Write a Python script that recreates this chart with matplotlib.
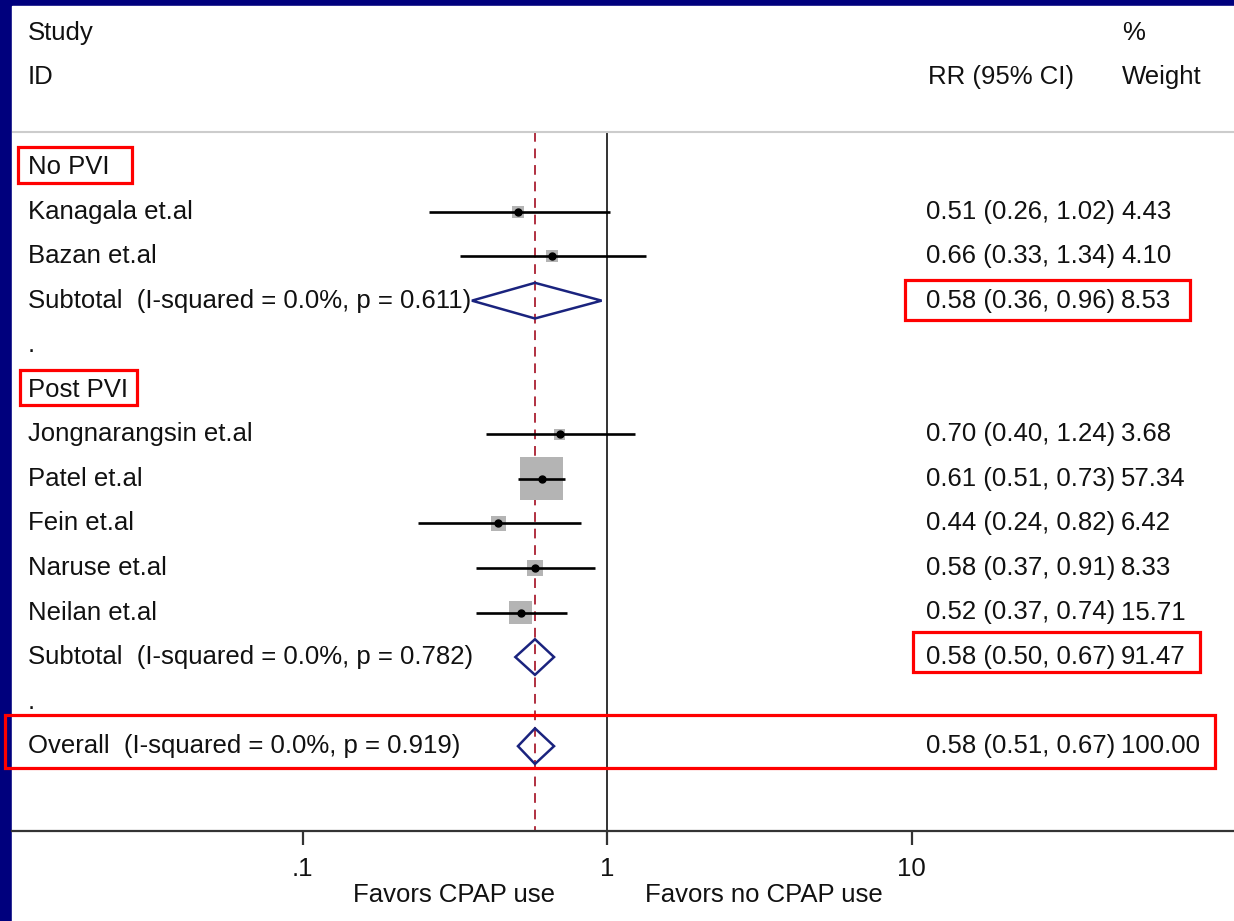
import matplotlib
matplotlib.use("Agg")
import matplotlib.pyplot as plt
from matplotlib.patches import Polygon, Rectangle
import numpy as np

plt.rcParams['font.family'] = ['Liberation Sans', 'DejaVu Sans']

# study-level data
studies = ['Kanagala et.al', 'Bazan et.al', 'Jongnarangsin et.al', 'Patel et.al',
           'Fein et.al', 'Naruse et.al', 'Neilan et.al']
study_rows = [1, 2, 6, 7, 8, 9, 10]
rr = [0.51, 0.66, 0.70, 0.61, 0.44, 0.58, 0.52]
lo = [0.26, 0.33, 0.40, 0.51, 0.24, 0.37, 0.37]
hi = [1.02, 1.34, 1.24, 0.73, 0.82, 0.91, 0.74]
weight = [4.43, 4.10, 3.68, 57.34, 6.42, 8.33, 15.71]

# pooled estimates
pooled_labels = ['Subtotal  (I-squared = 0.0%, p = 0.611)',
                 'Subtotal  (I-squared = 0.0%, p = 0.782)',
                 'Overall  (I-squared = 0.0%, p = 0.919)']
pooled_rows = [3, 11, 13]
pooled_rr = [0.58, 0.58, 0.58]
pooled_lo = [0.36, 0.50, 0.51]
pooled_hi = [0.96, 0.67, 0.67]
pooled_w = [8.53, 91.47, 100.00]

groups = ['No PVI', 'Post PVI']
group_rows = [0, 5]
dot_rows = [4, 12]

overall_rr = 0.58
tick_vals = [0.1, 1, 10]
tick_labels = ['.1', '1', '10']

W, H = 1234, 921
fig = plt.figure(figsize=(W / 100, H / 100), dpi=100, facecolor='#00007d')

# white panel
px0, py_top, py_axis = 12, 6, 831
ax = fig.add_axes([px0 / W, (H - py_axis) / H, (W - px0) / W, (py_axis - py_top) / H])
ax.set_facecolor('white')
bg = Rectangle((px0 / W, 0), 1, (H - py_top) / H, transform=fig.transFigure,
               color='white', zorder=-10)
fig.patches.append(bg)

# pixel mapping: x=1 at 607px, one decade = 304.5px; row 0 at 167px, 44.55px per row
dec, x1px = 304.5, 607
row0, rowh = 167, 44.55
ax.set_xscale('log')
ax.set_xlim(10 ** ((px0 - x1px) / dec), 10 ** ((W - x1px) / dec))
ax.set_ylim((py_axis - row0) / rowh, (py_top - row0) / rowh)


def fx(px):
    return (px - px0) / (W - px0)


def prow(py):
    return (py - row0) / rowh


for s in ['top', 'left', 'right']:
    ax.spines[s].set_visible(False)
ax.spines['bottom'].set_color('#333333')
ax.spines['bottom'].set_linewidth(1.6)
ax.set_yticks([])
ax.set_xticks(tick_vals)
ax.set_xticklabels(tick_labels)
ax.xaxis.set_minor_locator(matplotlib.ticker.NullLocator())
ax.tick_params(axis='x', direction='out', length=10, width=1.6, color='#333333',
               labelsize=18.5, pad=9, labelcolor='#111111')

ty = ax.get_yaxis_transform()
tc = '#111111'
fs = 18.5

# header
ax.text(fx(28), prow(33), 'Study', transform=ty, fontsize=fs, va='center', color=tc)
ax.text(fx(28), prow(77), 'ID', transform=ty, fontsize=fs, va='center', color=tc)
ax.text(fx(928), prow(77), 'RR (95% CI)', transform=ty, fontsize=fs, va='center', color=tc)
ax.text(fx(1122), prow(33), '%', transform=ty, fontsize=fs, va='center', color=tc)
ax.text(fx(1122), prow(77), 'Weight', transform=ty, fontsize=fs, va='center', color=tc)
ax.axhline(prow(132), color='#cccccc', lw=1.5)

# reference lines
ytop = prow(132)
ax.vlines(1, ytop, prow(py_axis), color='#333333', lw=1.4, zorder=1)
ax.vlines(overall_rr, ytop, prow(py_axis), color='#b03040', lw=1.4,
          linestyles=(0, (5, 3.5)), zorder=1)

# groups and spacer dots
for g, r in zip(groups, group_rows):
    ax.text(fx(28), r, g, transform=ty, fontsize=fs, va='center', color=tc)
for r in dot_rows:
    ax.text(fx(28), r, '.', transform=ty, fontsize=fs, va='center', color=tc)

# studies
ax.scatter(rr, study_rows, s=[16.8 * w for w in weight], marker='s',
           color='#b4b4b4', zorder=2, linewidths=0)
ax.hlines(study_rows, lo, hi, color='black', lw=1.9, zorder=3)
ax.plot(rr, study_rows, 'o', color='black', ms=5, zorder=4)
for name, r, e, l, h, w in zip(studies, study_rows, rr, lo, hi, weight):
    ax.text(fx(28), r, name, transform=ty, fontsize=fs, va='center', color=tc)
    ax.text(fx(926), r, f'{e:.2f} ({l:.2f}, {h:.2f})', transform=ty,
            fontsize=fs, va='center', color=tc)
    ax.text(fx(1121), r, f'{w:.2f}', transform=ty, fontsize=fs, va='center', color=tc)

# pooled diamonds
for name, r, e, l, h, w in zip(pooled_labels, pooled_rows, pooled_rr, pooled_lo,
                               pooled_hi, pooled_w):
    d = Polygon([(l, r), (e, r - 0.4), (h, r), (e, r + 0.4)], closed=True,
                fill=False, edgecolor='#1a237e', lw=1.8, zorder=5)
    ax.add_patch(d)
    ax.text(fx(28), r, name, transform=ty, fontsize=fs, va='center', color=tc)
    ax.text(fx(926), r, f'{e:.2f} ({l:.2f}, {h:.2f})', transform=ty,
            fontsize=fs, va='center', color=tc)
    ax.text(fx(1121), r, f'{w:.2f}', transform=ty, fontsize=fs, va='center', color=tc)

# red highlight boxes (x0px, x1px, y0px, y1px)
boxes = [(18, 132, 147, 183), (20, 137, 370, 405), (905, 1190, 280, 320),
         (913, 1200, 632, 672), (5, 1215, 715, 768)]
for x0, x1, y0, y1 in boxes:
    ax.add_patch(Rectangle((fx(x0), prow(y0)), fx(x1) - fx(x0), prow(y1) - prow(y0),
                           transform=ty, fill=False, edgecolor='#ff0000', lw=2.3,
                           clip_on=False, zorder=6))

# favours labels
ax.text(fx(555), prow(895), 'Favors CPAP use', transform=ty, fontsize=fs,
        ha='right', va='center', color=tc, clip_on=False)
ax.text(fx(645), prow(895), 'Favors no CPAP use', transform=ty, fontsize=fs,
        ha='left', va='center', color=tc, clip_on=False)

fig.savefig('out.png', dpi=100, facecolor=fig.get_facecolor())
